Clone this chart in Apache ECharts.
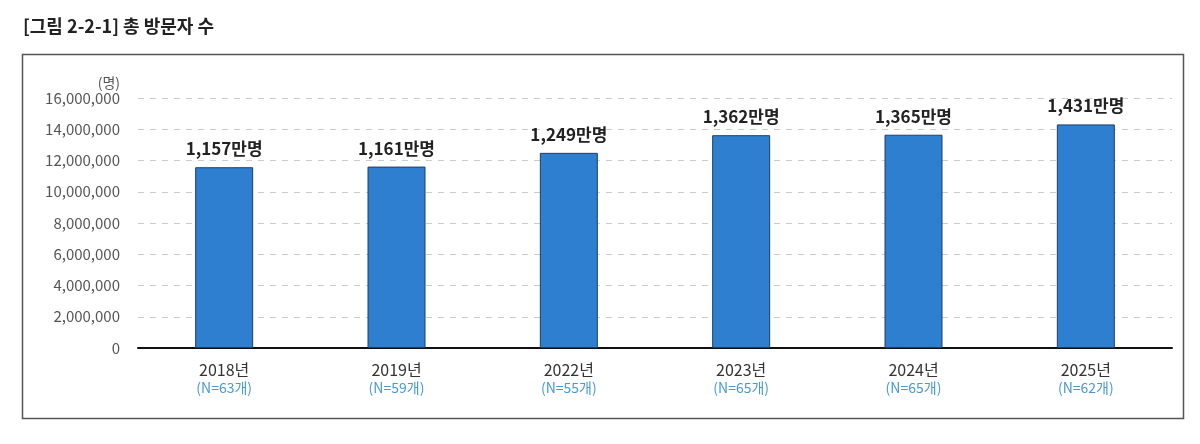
<!DOCTYPE html>
<html>
<head>
<meta charset="utf-8">
<script src="https://cdn.jsdelivr.net/npm/echarts@6/dist/echarts.min.js"></script>
<style>html,body{margin:0;background:#fff}#c{width:1200px;height:444px}</style>
</head>
<body>
<div id="c"></div>
<script>
const years = ['2018년', '2019년', '2022년', '2023년', '2024년', '2025년'];
const counts = ['N=63개', 'N=59개', 'N=55개', 'N=65개', 'N=65개', 'N=62개'];
const visitors = [11570000, 11610000, 12490000, 13620000, 13650000, 14310000];
const labels = ['1,157만명', '1,161만명', '1,249만명', '1,362만명', '1,365만명', '1,431만명'];

const font = '"Noto Sans CJK KR", "Noto Sans", sans-serif';
const chart = echarts.init(document.getElementById('c'));
chart.setOption({
  animation: false,
  textStyle: { fontFamily: font },
  title: {
    text: '[그림 2-2-1] 총 방문자 수',
    left: 18, top: 12,
    textStyle: { fontSize: 18, fontWeight: 'bold', color: '#222', fontFamily: font }
  },
  graphic: [{
    type: 'rect', left: 20, top: 52, z: -1,
    shape: { width: 1161, height: 364 },
    style: { fill: 'none', stroke: '#555', lineWidth: 1.5 }
  }],
  grid: { left: 138, right: 28, top: 98, bottom: 96 },
  xAxis: {
    type: 'category',
    data: years,
    axisLine: { lineStyle: { color: '#111', width: 2 } },
    axisTick: { show: false },
    axisLabel: {
      margin: 12,
      formatter: (v, i) => '{y|' + v + '}\n{n|(' + counts[i] + ')}',
      rich: {
        y: { fontSize: 16, color: '#333', lineHeight: 19, fontFamily: font },
        n: { fontSize: 14, color: '#4a9ad0', lineHeight: 17, fontFamily: font }
      }
    }
  },
  yAxis: {
    type: 'value',
    min: 0, max: 16000000, interval: 2000000,
    name: '(명)',
    nameGap: 8,
    nameTextStyle: { color: '#555', fontSize: 14, align: 'right', padding: [0, 18, 0, 0] },
    axisLabel: {
      color: '#555', fontSize: 15, margin: 18,
      formatter: v => v.toLocaleString('en-US')
    },
    splitLine: { lineStyle: { color: '#ccc', type: [6, 6] } }
  },
  series: [{
    type: 'bar',
    data: visitors,
    barWidth: 58,
    itemStyle: { color: '#2f7fd0', borderColor: '#1d3f66', borderWidth: 1 },
    label: {
      show: true, position: 'top', distance: 10,
      formatter: p => labels[p.dataIndex],
      fontSize: 17, fontWeight: 'bold', color: '#222'
    }
  }]
});
</script>
</body>
</html>
